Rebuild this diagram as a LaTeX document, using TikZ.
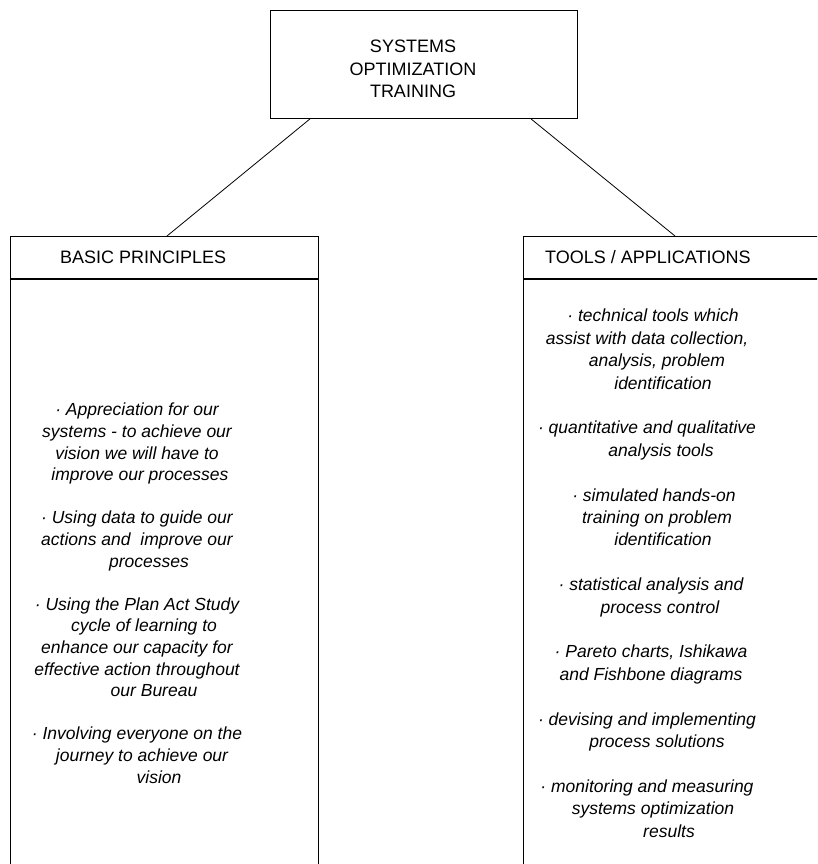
\documentclass[tikz,border=0pt]{standalone}
\usepackage{fontspec}
\setmainfont{Liberation Sans}
\usetikzlibrary{positioning}

\begin{document}
\begin{tikzpicture}[x=1pt,y=-1pt,
node distance=0pt,
box/.style={rectangle,draw=black,line width=0.9pt,inner sep=0pt,anchor=north west},
head/.style={anchor=base west,inner sep=0pt,font=\fontsize{18}{22}\selectfont},
items/.style={anchor=north,inner sep=0pt,align=center,font=\fontsize{17.5}{#1}\selectfont\itshape},
link/.style={draw=black,line width=0.8pt}
]
\path[use as bounding box,clip] (0,0) rectangle (817,864);
% top box
\node[box,minimum width=307pt,minimum height=108pt] (top) at (270,10) {};
\node[align=center,inner sep=0pt,font=\fontsize{18}{22.5}\selectfont] (toptext) at (413,69) {SYSTEMS\\OPTIMIZATION\\TRAINING};
% the two columns
\node[box,minimum width=308pt,minimum height=42pt] (basicshead) at (10,236) {};
\node[box,minimum width=308pt,minimum height=650pt,below=of basicshead,anchor=north] (basics) {};
\node[box,minimum width=400pt,minimum height=42pt] (toolshead) at (523,236) {};
\node[box,minimum width=400pt,minimum height=650pt,below=of toolshead,anchor=north] (tools) {};
\node[head] (basicslabel) at (60,263) {BASIC PRINCIPLES};
\node[head] (toolslabel) at (545,263) {TOOLS / APPLICATIONS};
\draw[link] ([xshift=40pt]top.south west) -- ([xshift=157pt]basicshead.north west);
\draw[link] ([xshift=261pt]top.south west) -- ([xshift=152pt]toolshead.north west);
% column texts (lines as they sit in the reference)
\node[items=21.6] (basicsitems) at (137,403) {%
· Appreciation for our\\systems - to achieve our\\vision we will have to\\\hspace*{6pt}improve our processes\\[21.6pt]
· Using data to guide our\\actions and \ improve our\\\hspace*{24pt}processes\\[21.6pt]
· Using the Plan Act Study\\\hspace*{14pt}cycle of learning to\\enhance our capacity for\\effective action throughout\\\hspace*{34pt}our Bureau\\[21.6pt]
· Involving everyone on the\\\hspace*{10pt}journey to achieve our\\\hspace*{44pt}vision};
\node[items=22.4] (toolsitems) at (647,309) {%
\hspace*{12pt}· technical tools which\\assist with data collection,\\\hspace*{20pt}analysis, problem\\\hspace*{32pt}identification\\[22.4pt]
· quantitative and qualitative\\\hspace*{28pt}analysis tools\\[22.4pt]
\hspace*{14pt}· simulated hands-on\\\hspace*{20pt}training on problem\\\hspace*{32pt}identification\\[22.4pt]
\hspace*{8pt}· statistical analysis and\\\hspace*{26pt}process control\\[22.4pt]
\hspace*{8pt}· Pareto charts, Ishikawa\\\hspace*{8pt}and Fishbone diagrams\\[22.4pt]
· devising and implementing\\\hspace*{20pt}process solutions\\[22.4pt]
· monitoring and measuring\\\hspace*{12pt}systems optimization\\\hspace*{44pt}results};
\end{tikzpicture}
\end{document}
